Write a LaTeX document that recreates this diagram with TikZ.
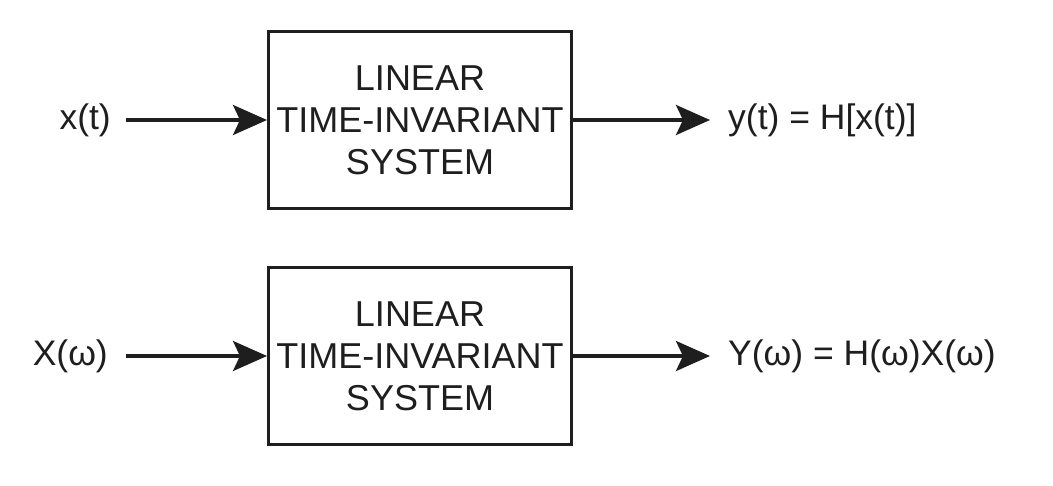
\documentclass[tikz,border=0pt]{standalone}
\usepackage{fontspec}
\setmainfont{Liberation Sans}
\usetikzlibrary{arrows.meta}
\definecolor{ink}{HTML}{1E1E1E}
\begin{document}
\begin{tikzpicture}[x=1pt,y=-1pt,
  sysbox/.style={draw=ink, line width=3pt, minimum width=303pt, minimum height=177pt,
    align=center, inner sep=0pt, text=ink, font=\fontsize{36}{42}\selectfont},
  lbl/.style={inner sep=0pt, text=ink, font=\fontsize{35.5}{40}\selectfont},
  arr/.style={draw=ink, line width=3.5pt, -{Stealth[length=34pt,width=30pt,inset=7pt]}}
]
\useasboundingbox (0,0) rectangle (1053,485);
% top row
\node[sysbox] (b1) at (420,120) {LINEAR\\TIME-INVARIANT\\SYSTEM};
\node[lbl, anchor=east] (xin) at (111,120) {x(t)};
\node[lbl, anchor=west] (yout) at (728,120) {y(t) = H[x(t)]};
\draw[arr, shorten <=15pt] (xin.east) -- (b1.west);
\draw[arr, shorten >=18pt] (b1.east) -- (yout.west);
% bottom row
\node[sysbox] (b2) at (420,356) {LINEAR\\TIME-INVARIANT\\SYSTEM};
\node[lbl, anchor=east] (Xin) at (108,356) {X(ω)};
\node[lbl, anchor=west] (Yout) at (728,356) {Y(ω) = H(ω)X(ω)};
\draw[arr, shorten <=18pt] (Xin.east) -- (b2.west);
\draw[arr, shorten >=18pt] (b2.east) -- (Yout.west);
\end{tikzpicture}
\end{document}
